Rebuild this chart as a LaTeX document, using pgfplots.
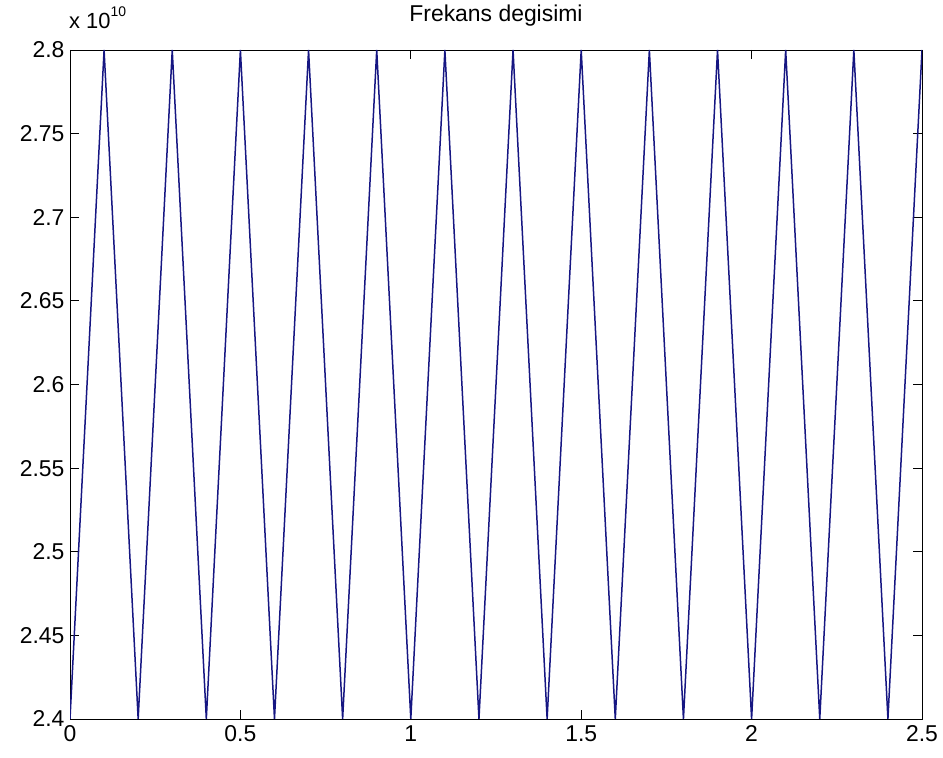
\documentclass[border=0pt]{standalone}
\usepackage{fontspec}
\setmainfont{Liberation Sans}
\usepackage{pgfplots}
\pgfplotsset{compat=1.18}
\definecolor{sig}{RGB}{22,22,130}

\begin{document}
\begin{tikzpicture}
\useasboundingbox (-70bp,-39bp) rectangle (873bp,719bp);
\begin{axis}[
  at={(0,0)}, anchor=south west,
  scale only axis,
  width=852bp, height=669bp,
  xmin=0, xmax=2.5, ymin=2.4, ymax=2.8,
  xtick={0,0.5,1,1.5,2,2.5},
  ytick={2.4,2.45,2.5,2.55,2.6,2.65,2.7,2.75,2.8},
  scaled ticks=false,
  tick align=inside,
  major tick length=9bp,
  tick style={black, line width=0.8pt},
  axis line style={black, line width=0.9pt},
  /pgf/number format/assume math mode=true,
  tick label style={font=\fontsize{23}{26}\selectfont},
  xticklabel style={yshift=-3bp},
  yticklabel style={xshift=-2bp},
  title={Frekans degisimi},
  title style={font=\fontsize{23}{26}\selectfont, at={(0.5,1)}, anchor=base, yshift=23bp},
  clip mode=individual,
]
% frequency sweep, triangle between 2.4e10 and 2.8e10, period 0.2
\addplot[sig, line width=1.5pt] coordinates {
  (0,2.4) (0.1,2.8) (0.2,2.4) (0.3,2.8) (0.4,2.4) (0.5,2.8)
  (0.6,2.4) (0.7,2.8) (0.8,2.4) (0.9,2.8) (1.0,2.4) (1.1,2.8)
  (1.2,2.4) (1.3,2.8) (1.4,2.4) (1.5,2.8) (1.6,2.4) (1.7,2.8)
  (1.8,2.4) (1.9,2.8) (2.0,2.4) (2.1,2.8) (2.2,2.4) (2.3,2.8)
  (2.4,2.4) (2.5,2.8)
};
\node[anchor=base west, font=\fontsize{22}{25}\selectfont, inner sep=0pt]
  at (rel axis cs:0,1) [yshift=21bp, xshift=-1bp]
  {x 10\raisebox{1.1ex}{\fontsize{14}{16}\selectfont 10}};
\end{axis}
\end{tikzpicture}
\end{document}
